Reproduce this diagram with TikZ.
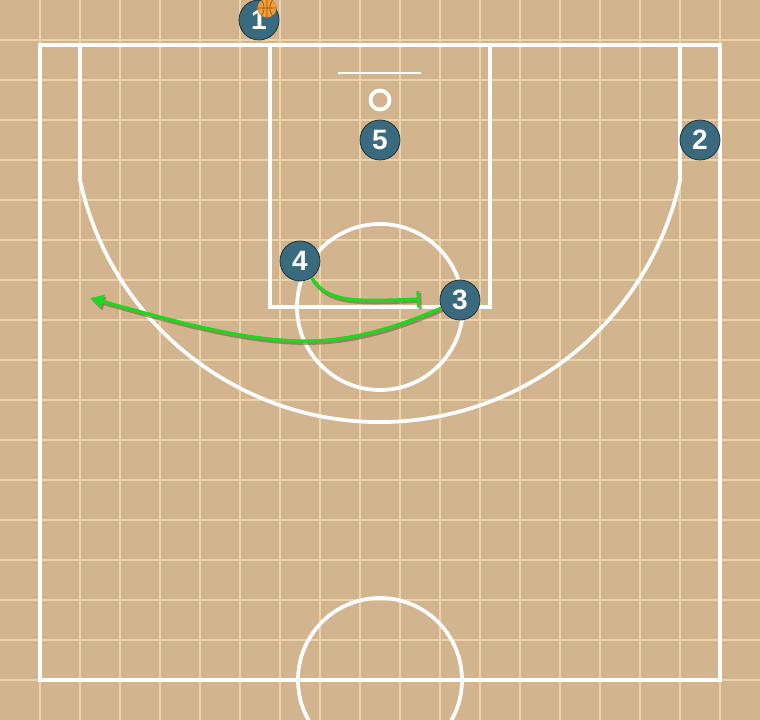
\documentclass[tikz,border=0pt]{standalone}
\usepackage{fontspec}
\setsansfont{Liberation Sans}
\usetikzlibrary{arrows.meta}
\definecolor{floor}{RGB}{210,181,142}
\definecolor{gridline}{RGB}{236,212,170}
\definecolor{playerfill}{RGB}{58,106,125}
\definecolor{playerdraw}{RGB}{30,52,62}
\definecolor{movegreen}{RGB}{30,215,30}
\definecolor{moveshadow}{RGB}{120,95,65}
\definecolor{ballfill}{RGB}{240,160,50}
\definecolor{ballseam}{RGB}{165,80,20}
\begin{document}
\begin{tikzpicture}[x=0.75pt,y=-0.75pt,
    court/.style={white,line width=2.8pt},
    player/.style={circle,fill=playerfill,draw=playerdraw,line width=0.6pt,
      minimum size=30pt,inner sep=0pt,text=white,
      font=\sffamily\bfseries\fontsize{21}{21}\selectfont},
    ball/.style={circle,fill=ballfill,draw=ballseam!70,line width=0.4pt,
      minimum size=14pt,inner sep=0pt},
    move/.style={movegreen,line width=2.5pt,
      preaction={draw=moveshadow,opacity=0.6,line width=2.5pt,
        transform canvas={shift={(1.5,2.2)}}}}]
                \useasboundingbox (0,0) rectangle (760,720);
                \clip (0,0) rectangle (760,720);
                \fill[floor] (0,0) rectangle (760,720);
                \foreach \x in {40,80,...,720}
                  \draw[gridline,line width=1.1pt] (\x,0) -- (\x,720);
                \foreach \y in {40,80,...,680}
                  \draw[gridline,line width=1.1pt] (0,\y) -- (760,\y);

                % court
                \draw[court] (40,45) rectangle (720,680);
                \draw[court] (270,45) rectangle (490,307);
                \draw[court] (380,307) circle[radius=83];
                \draw[court] (380,680) circle[radius=82];
                \draw[court] (80,45) -- (80,180)
                  arc[start angle=167.78,end angle=12.22,radius=307] -- (680,45);
                \draw[white,line width=1.3pt] (338,73) -- (421,73);
                \draw[court] (380,100) circle[radius=9.5];

                % players
                \node[player] (p1) at (259,20) {1};
                \node[player] (p2) at (700,140) {2};
                \node[player] (p3) at (460,300) {3};
                \node[player] (p4) at (300,261) {4};
                \node[player] (p5) at (380,140) {5};
                \node[ball] (ball) at (267,8) {};
                \draw[ballseam,line width=0.5pt] (ball.north) -- (ball.south)
                  (ball.west) -- (ball.east)
                  (ball.125) to[bend left=35] (ball.235)
                  (ball.55) to[bend right=35] (ball.305);

                % moves
                \coordinate (cutend) at (90,298);
                \coordinate (screenend) at (420,299);
                \draw[move,-{Triangle[length=10pt,width=10pt]}] (p3)
                  .. controls (395,328) and (350,342) .. (300,341)
                  .. controls (240,340) and (170,320) .. (cutend);
                \draw[move,-{Bar[width=12pt]}] (p4)
                  .. controls (328,302) and (350,302) .. (screenend);
            \end{tikzpicture}
\end{document}
